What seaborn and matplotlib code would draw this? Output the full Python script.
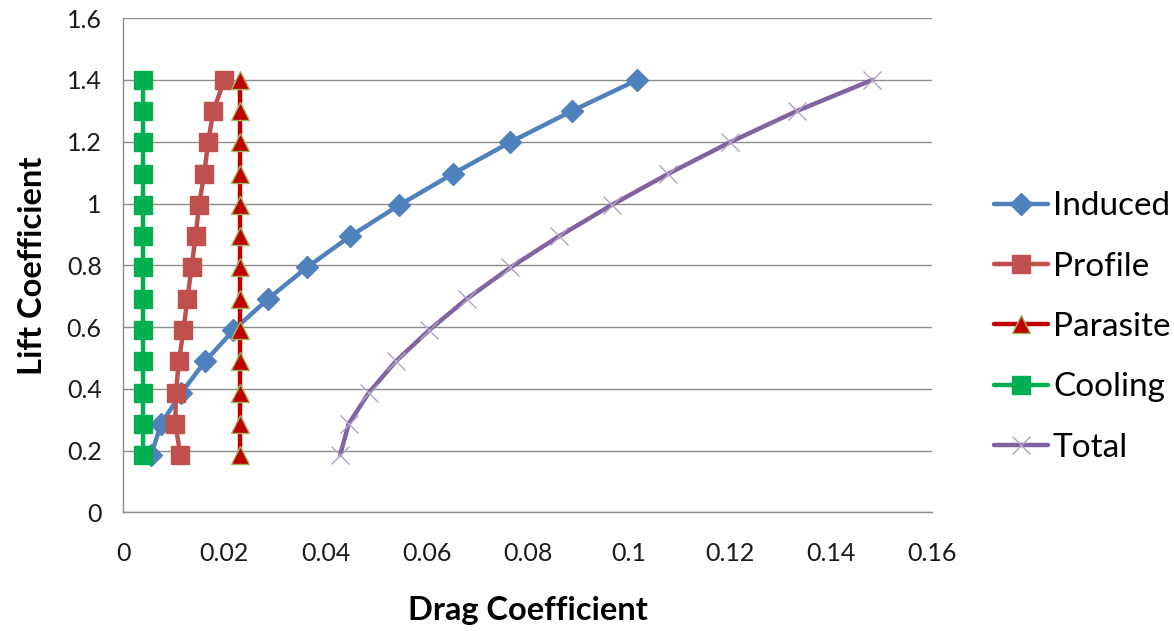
import matplotlib
matplotlib.use("Agg")
import matplotlib.pyplot as plt
import seaborn as sns
import pandas as pd
import numpy as np

# ---- data ----
lift = [0.186, 0.287, 0.388, 0.489, 0.590, 0.692, 0.793, 0.894, 0.995, 1.096, 1.198, 1.299, 1.400]
induced = [0.0055, 0.0075, 0.0115, 0.0162, 0.0218, 0.0287, 0.0363, 0.0449, 0.0546, 0.0652, 0.0765, 0.0887, 0.1017]
profile = [0.0113, 0.0103, 0.0104, 0.0110, 0.0119, 0.0127, 0.0135, 0.0143, 0.0150, 0.0160, 0.0168, 0.0178, 0.0200]
parasite = [0.0231] * 13
cooling = [0.0040] * 13
total = [0.0429, 0.0446, 0.0486, 0.0539, 0.0605, 0.0680, 0.0766, 0.0862, 0.0966, 0.1078, 0.1200, 0.1332, 0.1482]
series_names = ["Induced", "Profile", "Parasite", "Cooling", "Total"]
x_ticks = [0, 0.02, 0.04, 0.06, 0.08, 0.1, 0.12, 0.14, 0.16]
x_tick_labels = ["0", "0.02", "0.04", "0.06", "0.08", "0.1", "0.12", "0.14", "0.16"]
y_ticks = [0, 0.2, 0.4, 0.6, 0.8, 1.0, 1.2, 1.4, 1.6]
y_tick_labels = ["0", "0.2", "0.4", "0.6", "0.8", "1", "1.2", "1.4", "1.6"]

sns.set_theme(style="white")
plt.rcParams["font.family"] = ["Lato", "DejaVu Sans"]

rows = []
for name, vals in zip(series_names, [induced, profile, parasite, cooling, total]):
    for cl, cd in zip(lift, vals):
        rows.append({"series": name, "cd": cd, "cl": cl})
df = pd.DataFrame(rows)

styles = {
    "Induced": dict(color="#4F81BD", marker="D", ms=11, mfc="#4F81BD", mec="#4F81BD", mew=1, lw=3.2),
    "Profile": dict(color="#C0504D", marker="s", ms=13.5, mfc="#C0504D", mec="#C0504D", mew=1, lw=3.2),
    "Parasite": dict(color="#C00000", marker="^", ms=13.5, mfc="#C00000", mec="#9BBB59", mew=1, lw=3.2),
    "Cooling": dict(color="#00B050", marker="s", ms=13, mfc="#00B050", mec="#00B050", mew=1, lw=3.2),
    "Total": dict(color="#8064A2", marker="x", ms=13, mfc="#B3A2C7", mec="#B3A2C7", mew=1.0, lw=3.2),
}

fig = plt.figure(figsize=(11.74, 6.31), dpi=100)
ax = fig.add_axes([0.1050, 0.1878, 0.6889, 0.7835])

for name in series_names:
    st = styles[name]
    sub = df[df["series"] == name]
    sns.lineplot(data=sub, x="cd", y="cl", ax=ax, sort=False, estimator=None,
                 orient="y", color=st["color"], lw=st["lw"], marker=st["marker"],
                 markersize=st["ms"], markerfacecolor=st["mfc"], markeredgecolor=st["mec"],
                 markeredgewidth=st["mew"], label=name, clip_on=False)

ax.set_xlim(0, 0.16)
ax.set_ylim(0, 1.6)
ax.set_xticks(x_ticks)
ax.set_xticklabels(x_tick_labels)
ax.set_yticks(y_ticks)
ax.set_yticklabels(y_tick_labels)
ax.yaxis.grid(True, color="#8C8C8C", lw=1.0)
ax.xaxis.grid(False)
ax.set_axisbelow(True)
for s in ["top", "right"]:
    ax.spines[s].set_visible(False)
for s in ["left", "bottom"]:
    ax.spines[s].set_color("#8C8C8C")
    ax.spines[s].set_linewidth(1.0)
ax.tick_params(axis="both", which="major", length=6.5, width=1, color="#8C8C8C",
               labelsize=18, labelcolor="#1a1a1a", direction="out")
ax.tick_params(axis="x", pad=15)
ax.tick_params(axis="y", pad=9)
ax.set_xlabel("Drag Coefficient", fontsize=23.5, fontweight="bold", labelpad=22, color="black")
ax.set_ylabel("Lift Coefficient", fontsize=23.5, fontweight="bold", labelpad=14, color="black")

leg = ax.legend(loc="center left", bbox_to_anchor=(1.060, 0.375), frameon=False,
                fontsize=24, handlelength=1.62, handletextpad=0.15, labelspacing=0.91,
                numpoints=1, borderaxespad=0)
for t in leg.get_texts():
    t.set_color("black")

fig.savefig("out.png", dpi=100)
